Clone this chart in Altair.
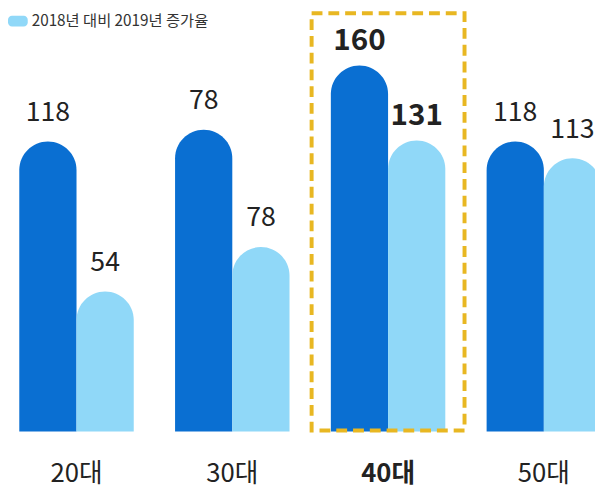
import altair as alt
import pandas as pd

categories = ["20대", "30대", "40대", "50대"]
series_names = ["2019년", "2018년 대비 2019년 증가율"]
dark_heights = [294, 306, 371, 294]
light_heights = [142, 187, 295, 277]
dark_labels = [118, 78, 160, 118]
light_labels = [54, 78, 131, 113]
highlight = "40대"

DARK = "#0a6fd2"
LIGHT = "#90d8f8"
GOLD = "#e8b722"
TEXT = "#222222"
FONT = "Noto Sans CJK KR"

rows = []
for i, c in enumerate(categories):
    rows.append(dict(cat=c, series=series_names[0], h=dark_heights[i], label=str(dark_labels[i])))
    rows.append(dict(cat=c, series=series_names[1], h=light_heights[i], label=str(light_labels[i])))
df = pd.DataFrame(rows)

x_enc = alt.X("cat:N", sort=categories, axis=None,
              scale=alt.Scale(domain=categories, range=[-9.5, 622.1],
                              paddingInner=0, paddingOuter=0))
xo_enc = alt.XOffset("series:N", sort=series_names,
                     scale=alt.Scale(domain=series_names, paddingInner=0, paddingOuter=0.361))
y_scale = alt.Scale(domain=[-57, 426], nice=False, zero=False)

pill = ("M-0.6,-0.55 H0.6 A0.4,0.4 0 0 1 1,-0.15 V0.15 A0.4,0.4 0 0 1 0.6,0.55 "
        "H-0.6 A0.4,0.4 0 0 1 -1,0.15 V-0.15 A0.4,0.4 0 0 1 -0.6,-0.55 Z")

color_enc = alt.Color(
    "series:N",
    scale=alt.Scale(domain=series_names, range=[DARK, LIGHT]),
    legend=alt.Legend(values=[series_names[1]], orient="none", legendX=0, legendY=0,
                      title=None, symbolType=pill, symbolSize=400, symbolStrokeWidth=0,
                      labelFont=FONT, labelFontSize=15.5, labelColor="#333333",
                      labelOffset=4, labelLimit=400, padding=0),
)

base = alt.Chart(df)

bars = base.mark_bar(cornerRadiusTopLeft=29, cornerRadiusTopRight=29).encode(
    x=x_enc, xOffset=xo_enc,
    y=alt.Y("h:Q", axis=None, scale=y_scale),
    y2=alt.datum(0),
    color=color_enc,
)

val_normal = base.transform_filter(alt.datum.cat != highlight).mark_text(
    font=FONT, fontSize=27, color=TEXT, baseline="middle", dy=-29
).encode(x=x_enc, xOffset=xo_enc, y=alt.Y("h:Q", scale=y_scale), text="label:N")

val_bold = base.transform_filter(alt.datum.cat == highlight).mark_text(
    font=FONT, fontSize=30, fontWeight="bold", color=TEXT, baseline="middle", dy=-25
).encode(x=x_enc, xOffset=xo_enc, y=alt.Y("h:Q", scale=y_scale), text="label:N")

cat_df = pd.DataFrame({"cat": categories})
cat_normal = alt.Chart(cat_df).transform_filter(alt.datum.cat != highlight).mark_text(
    font=FONT, fontSize=26, color=TEXT, baseline="middle"
).encode(x=x_enc, y=alt.value(469), text="cat:N")

cat_bold = alt.Chart(cat_df).transform_filter(alt.datum.cat == highlight).mark_text(
    font=FONT, fontSize=26, fontWeight="bold", color=TEXT, baseline="middle"
).encode(x=x_enc, y=alt.value(469), text="cat:N")

box = alt.Chart(cat_df).transform_filter(alt.datum.cat == highlight).mark_bar(
    fillOpacity=0, stroke=GOLD, strokeWidth=4, strokeDash=[11, 6], width=155
).encode(x=x_enc, y=alt.value(2), y2=alt.value(425))

chart = alt.layer(bars, val_normal, val_bold, cat_normal, cat_bold, box).properties(
    width=595, height=483, padding=0,
    autosize=alt.AutoSizeParams(type="none"),
    background="white",
).configure_view(stroke=None)

chart.save("out.html", embed_options={"renderer": "svg", "actions": False})
